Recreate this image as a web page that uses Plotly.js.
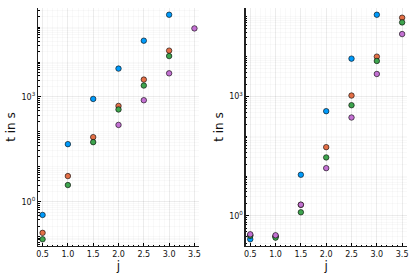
<!DOCTYPE html>
<html><head><meta charset="utf-8">
<script src="https://cdn.plot.ly/plotly-3.0.1.min.js"></script>
<style>html,body{margin:0;padding:0;background:#fff}#c{width:415px;height:277px}</style>
</head><body><div id="c"></div>
<script>
// Left panel data
const jL = [0.5, 1.0, 1.5, 2.0, 2.5, 3.0, 3.5];
const blueL   = [0.417, 44.5, 877, 6480, 40800, 226000, null];
const orangeL = [0.128, 5.42, 70.6, 553, 3140, 21200, null];
const greenL  = [0.084, 3.0, 50.8, 437, 2120, 14800, null];
const purpleL = [null, null, null, 158, 805, 4750, 91800];
// Right panel data
const jR = [0.5, 1.0, 1.5, 2.0, 2.5, 3.0, 3.5];
const blueR   = [0.261, 0.31, 10.8, 422, 8750, 110000, null];
const orangeR = [0.33, 0.31, 1.9, 53, 1040, 9820, 92700];
const greenR  = [0.32, 0.287, 1.24, 29.3, 596, 7640, 70800];
const purpleR = [0.348, 0.329, 1.92, 15.8, 293, 3610, 36100];

const colors = ['#009AFA', '#E36F47', '#3EA44E', '#C371D2'];
const yTickVals = [1, 1000];
const yTickText = ['10<sup>0</sup>', '10<sup>3</sup>'];
const xTickVals = [0.5, 1.0, 1.5, 2.0, 2.5, 3.0, 3.5];
const xTickText = ['0.5', '1.0', '1.5', '2.0', '2.5', '3.0', '3.5'];

function tr(x, y, c, xa, ya) {
  return {x: x, y: y, type: 'scatter', mode: 'markers', xaxis: xa, yaxis: ya,
    marker: {color: c, size: 5.5, line: {color: '#000', width: 0.6}}, showlegend: false, cliponaxis: false};
}
const data = [
  tr(jL, blueL, colors[0], 'x', 'y'),
  tr(jL, orangeL, colors[1], 'x', 'y'),
  tr(jL, greenL, colors[2], 'x', 'y'),
  tr(jL, purpleL, colors[3], 'x', 'y'),
  tr(jR, blueR, colors[0], 'x2', 'y2'),
  tr(jR, orangeR, colors[1], 'x2', 'y2'),
  tr(jR, greenR, colors[2], 'x2', 'y2'),
  tr(jR, purpleR, colors[3], 'x2', 'y2')
];
const font = {family: 'DejaVu Sans', size: 8, color: '#111'};
const tfont = {family: 'DejaVu Sans', size: 12, color: '#111'};
function xax(dom, anchor) {
  return {domain: dom, anchor: anchor, range: [0.41, 3.59], tickvals: xTickVals, ticktext: xTickText,
    ticks: 'inside', ticklen: 3, tickcolor: '#000', showline: true, linecolor: '#222', linewidth: 1.2,
    showgrid: true, gridcolor: 'rgba(0,0,0,0.1)', gridwidth: 0.5, zeroline: false, tickfont: font,
    minor: {dtick: 0.1, ticks: 'inside', ticklen: 1.5, tickcolor: '#000', showgrid: true, gridcolor: 'rgba(0,0,0,0.05)', gridwidth: 0.5},
    title: {text: 'j', font: tfont, standoff: 2}};
}
function yax(dom, anchor, rng) {
  return {domain: dom, anchor: anchor, type: 'log', range: rng, tickvals: yTickVals, ticktext: yTickText,
    ticks: 'inside', ticklen: 3, tickcolor: '#000', showline: true, linecolor: '#222', linewidth: 1.2,
    showgrid: true, gridcolor: 'rgba(0,0,0,0.1)', gridwidth: 0.5, zeroline: false, tickfont: font,
    minor: {dtick: 'D1', ticks: 'inside', ticklen: 1.5, tickcolor: '#000', showgrid: true, gridcolor: 'rgba(0,0,0,0.05)', gridwidth: 0.5},
    title: {text: 't in s', font: tfont, standoff: 3}};
}
const yd = [0.1119, 0.9711];
const layout = {
  width: 415, height: 277, margin: {l: 0, r: 0, t: 0, b: 0},
  paper_bgcolor: '#fff', plot_bgcolor: '#fff',
  xaxis: xax([0.0916, 0.4795], 'y'),
  yaxis: yax(yd, 'x', [-1.269, 5.547]),
  xaxis2: xax([0.592, 0.980], 'y2'),
  yaxis2: yax(yd, 'x2', [-0.752, 5.21])
};
Plotly.newPlot('c', data, layout, {displayModeBar: false, staticPlot: true});
</script></body></html>
